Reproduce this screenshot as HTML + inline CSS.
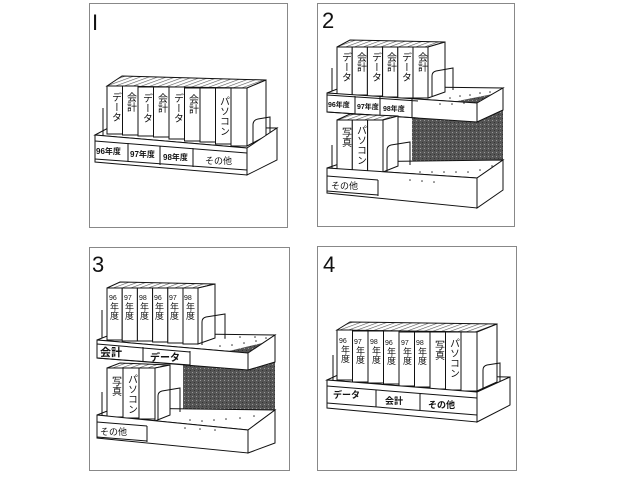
<!DOCTYPE html>
<html><head><meta charset="utf-8"><style>
html,body{margin:0;padding:0;background:#fff}
svg{display:block}
text{font-family:"Liberation Sans","Noto Sans CJK JP",sans-serif;fill:#111}
.v{writing-mode:vertical-rl;font-size:10px}
.l{font-size:8px;font-weight:bold}
.n{font-size:9px}
.s{font-size:7px}
</style></head><body>
<svg width="640" height="480" viewBox="0 0 640 480" xmlns="http://www.w3.org/2000/svg">
<defs>
<pattern id="h" width="3" height="3" patternUnits="userSpaceOnUse" patternTransform="rotate(-20)">
<rect width="3" height="3" fill="#fff"/><line x1="0" y1="0" x2="3" y2="0" stroke="#555" stroke-width="1.2"/></pattern>
<pattern id="d" width="4" height="4" patternUnits="userSpaceOnUse">
<rect width="4" height="4" fill="#555"/><rect x="0" y="0" width="1" height="1" fill="#999"/><rect x="2" y="2" width="1" height="1" fill="#333"/></pattern>
</defs>
<g fill="none" stroke="#888" stroke-width="1">
<rect x="89.5" y="3.5" width="198" height="224"/>
<rect x="317.5" y="3.5" width="197" height="223"/>
<rect x="89.5" y="247.5" width="200" height="223"/>
<rect x="317.5" y="246.5" width="199" height="224"/>
</g>
<g font-size="22" style="font-family:'Liberation Sans',sans-serif">
<text x="92" y="30" font-weight="300">I</text>
<text x="322" y="28">2</text>
<text x="92" y="272">3</text>
<text x="323" y="272">4</text>
</g>

<!-- PANEL 1 -->
<g stroke="#111" stroke-width="1">
<polygon points="95,135 110,127 277,128 247,148" fill="#fff"/>
<line x1="103" y1="108" x2="103" y2="138"/>
<polygon points="107,86 122,76 266,80 247,88" fill="url(#h)"/>
<polygon points="247,88 266,80 266,136 247,146" fill="#fff"/>
<g fill="#fff">
<rect x="107" y="86" width="15.5" height="48"/><rect x="122.5" y="86" width="15.5" height="49"/>
<rect x="138" y="87" width="15.5" height="49"/><rect x="153.5" y="87" width="15.5" height="50"/>
<rect x="169" y="87" width="15.5" height="52"/><rect x="184.5" y="88" width="15.5" height="53"/>
<rect x="200" y="88" width="15.5" height="54"/><rect x="215.5" y="88" width="15.5" height="56"/>
<rect x="231" y="88" width="16" height="58"/>
</g>
<path d="M253,146 L253,125 Q253,120 258,119 L270,117 L270,137" fill="none"/>
<polygon points="95,135 247,148 247,175 95,162" fill="#fff"/>
<polygon points="247,148 277,128 277,160 247,175" fill="#fff"/>
<path d="M95,141 L247,153 M95,159 L247,170 M128,143 L128,162 M160,146 L160,165 M193,148 L193,167" fill="none"/>
</g>
<text class="v" x="115" y="92">データ</text><text class="v" x="130" y="92">会計</text>
<text class="v" x="146" y="93">データ</text><text class="v" x="161" y="93">会計</text>
<text class="v" x="177" y="93">データ</text><text class="v" x="192" y="94">会計</text>
<text class="v" x="223" y="96">パソコン</text>
<text class="l" x="96" y="154">96年度</text><text class="l" x="130" y="157">97年度</text>
<text class="l" x="163" y="160">98年度</text><text class="n" x="205" y="164">その他</text>

<!-- PANEL 2 -->
<g stroke="#111" stroke-width="1">
<line x1="332" y1="68" x2="332" y2="96"/>
<polygon points="327,93 345,86 503,88 477,103" fill="#fff"/>
<polygon points="412,110 503,92 503,165 412,165" fill="url(#d)" stroke="none"/>
<polygon points="337,47 350,40 445,42 428,47" fill="url(#h)"/>
<polygon points="428,47 445,42 445,92 428,98" fill="#fff"/>
<g fill="#fff">
<rect x="337" y="47" width="15.2" height="48"/><rect x="352.2" y="47" width="15.2" height="48"/>
<rect x="367.4" y="47" width="15.2" height="49"/><rect x="382.6" y="47" width="15.2" height="50"/>
<rect x="397.8" y="47" width="15.2" height="51"/><rect x="413" y="47" width="15" height="51"/>
</g>
<path d="M432,96 L432,76 Q432,72 436,71 L453,68 L453,90" fill="none"/>
<polygon points="327,93 477,103 477,122 327,112" fill="#fff"/>
<polygon points="477,103 503,88 503,110 477,122" fill="#fff"/>
<path d="M327,95 L418,101 M327,112 L418,118 M355,96 L355,114 M380,97 L380,116 M412,99 L412,118" fill="none"/>
<polygon points="327,168 345,162 503,160 477,178" fill="#fff"/>
<line x1="332" y1="145" x2="332" y2="170"/>
<polygon points="337,120 350,114 398,116 383,120" fill="url(#h)"/>
<polygon points="383,120 398,116 398,166 383,172" fill="#fff"/>
<g fill="#fff">
<rect x="337" y="120" width="15.3" height="50"/><rect x="352.3" y="120" width="15.3" height="51"/>
<rect x="367.6" y="120" width="15.4" height="52"/>
</g>
<path d="M387,172 L387,150 Q387,146 391,145 L410,142 L410,165" fill="none"/>
<polygon points="327,168 477,178 477,208 327,193" fill="#fff"/>
<polygon points="477,178 503,160 503,190 477,208" fill="#fff"/>
<path d="M327,176 L378,180 M327,191 L378,195 M378,180 L378,196" fill="none"/>
</g>
<g fill="#333">
<circle cx="450" cy="98" r=".8"/><circle cx="460" cy="96" r=".8"/><circle cx="470" cy="95" r=".8"/><circle cx="480" cy="93" r=".8"/><circle cx="490" cy="92" r=".8"/>
<circle cx="440" cy="104" r=".8"/><circle cx="452" cy="104" r=".8"/><circle cx="464" cy="103" r=".8"/>
<circle cx="420" cy="172" r=".8"/><circle cx="432" cy="172" r=".8"/><circle cx="444" cy="172" r=".8"/><circle cx="456" cy="172" r=".8"/><circle cx="468" cy="172" r=".8"/><circle cx="480" cy="170" r=".8"/><circle cx="492" cy="166" r=".8"/>
<circle cx="410" cy="180" r=".8"/><circle cx="422" cy="181" r=".8"/><circle cx="434" cy="182" r=".8"/>
</g>
<text class="v" x="345" y="52">データ</text><text class="v" x="360" y="52">会計</text>
<text class="v" x="375" y="52">データ</text><text class="v" x="390" y="52">会計</text>
<text class="v" x="405" y="52">データ</text><text class="v" x="421" y="52">会計</text>
<text class="v" x="345" y="127">写真</text><text class="v" x="360" y="125">パソコン</text>
<text class="l" x="328" y="107" style="font-size:7px">96年度</text><text class="l" x="357" y="109" style="font-size:7px">97年度</text><text class="l" x="383" y="111" style="font-size:7px">98年度</text>
<text class="n" x="331" y="189">その他</text>

<!-- PANEL 3 -->
<g stroke="#111" stroke-width="1">
<line x1="102" y1="310" x2="102" y2="342"/>
<polygon points="97,340 115,333 275,335 248,353" fill="#fff"/>
<polygon points="183,362 275,340 275,413 183,413" fill="url(#d)" stroke="none"/>
<polygon points="107,288 120,282 215,284 198,288" fill="url(#h)"/>
<polygon points="198,288 215,284 215,338 198,344" fill="#fff"/>
<g fill="#fff">
<rect x="107" y="288" width="15.2" height="52"/><rect x="122.2" y="288" width="15.2" height="53"/>
<rect x="137.4" y="288" width="15.2" height="53"/><rect x="152.6" y="288" width="15.2" height="54"/>
<rect x="167.8" y="288" width="15.2" height="55"/><rect x="183" y="288" width="15" height="56"/>
</g>
<path d="M202,345 L202,322 Q202,318 206,317 L225,314 L225,338" fill="none"/>
<polygon points="97,340 248,353 248,370 97,358" fill="#fff"/>
<polygon points="248,353 275,335 275,362 248,370" fill="#fff"/>
<path d="M97,344 L190,352 M97,358 L190,365 M143,347 L143,361 M190,351 L190,365" fill="none"/>
<polygon points="97,415 115,408 275,410 248,430" fill="#fff"/>
<line x1="102" y1="392" x2="102" y2="418"/>
<polygon points="107,368 120,363 170,365 155,368" fill="url(#h)"/>
<polygon points="155,368 170,365 170,415 155,421" fill="#fff"/>
<g fill="#fff">
<rect x="107" y="368" width="16" height="49"/><rect x="123" y="368" width="16" height="50"/>
<rect x="139" y="368" width="16" height="51"/>
</g>
<path d="M158,420 L158,396 Q158,392 162,391 L180,388 L180,412" fill="none"/>
<polygon points="97,415 248,430 248,453 97,438" fill="#fff"/>
<polygon points="248,430 275,410 275,443 248,453" fill="#fff"/>
<path d="M97,422 L147,426 M97,437 L147,441 M147,426 L147,442" fill="none"/>
</g>
<g fill="#333">
<circle cx="220" cy="346" r=".8"/><circle cx="232" cy="345" r=".8"/><circle cx="244" cy="343" r=".8"/><circle cx="256" cy="341" r=".8"/><circle cx="266" cy="338" r=".8"/>
<circle cx="225" cy="338" r=".8"/><circle cx="240" cy="337" r=".8"/><circle cx="255" cy="337" r=".8"/>
<circle cx="190" cy="420" r=".8"/><circle cx="202" cy="421" r=".8"/><circle cx="214" cy="420" r=".8"/><circle cx="226" cy="419" r=".8"/><circle cx="240" cy="418" r=".8"/><circle cx="254" cy="416" r=".8"/>
<circle cx="185" cy="428" r=".8"/><circle cx="200" cy="429" r=".8"/><circle cx="215" cy="430" r=".8"/>
</g>
<g class="s"><text x="109" y="300">96</text><text x="124" y="300">97</text><text x="139" y="300">98</text><text x="154" y="300">96</text><text x="169" y="300">97</text><text x="184" y="300">98</text></g>
<g class="v" style="font-size:9px"><text x="114" y="302">年度</text><text x="129" y="302">年度</text><text x="144" y="302">年度</text><text x="159" y="302">年度</text><text x="174" y="302">年度</text><text x="190" y="302">年度</text></g>
<text class="v" x="115" y="376">写真</text><text class="v" x="131" y="374">パソコン</text>
<text class="l" x="100" y="356" style="font-size:11px">会計</text><text class="l" x="150" y="361" style="font-size:10px">データ</text>
<text class="n" x="100" y="435">その他</text>

<!-- PANEL 4 -->
<g stroke="#111" stroke-width="1">
<polygon points="327,380 340,374 510,377 477,392" fill="#fff"/>
<line x1="333" y1="355" x2="333" y2="383"/>
<polygon points="337,330 350,322 497,324 477,332" fill="url(#h)"/>
<polygon points="477,332 497,324 497,382 477,391" fill="#fff"/>
<g fill="#fff">
<rect x="337" y="330" width="15.5" height="50"/><rect x="352.5" y="331" width="15.5" height="51"/>
<rect x="368" y="331" width="15.5" height="52"/><rect x="383.5" y="331" width="15.5" height="53"/>
<rect x="399" y="332" width="15.5" height="54"/><rect x="414.5" y="332" width="15.5" height="55"/>
<rect x="430" y="332" width="15.5" height="57"/><rect x="445.5" y="332" width="15.5" height="58"/>
<rect x="461" y="332" width="16" height="59"/>
</g>
<path d="M483,390 L483,370 Q483,366 487,365 L500,363 L500,382" fill="none"/>
<polygon points="327,380 477,392 477,422 327,408" fill="#fff"/>
<polygon points="477,392 510,377 510,405 477,422" fill="#fff"/>
<path d="M327,386 L477,398 M327,403 L477,415 M376,390 L376,407 M420,394 L420,411" fill="none"/>
</g>
<g class="s"><text x="339" y="343">96</text><text x="354" y="344">97</text><text x="370" y="344">98</text><text x="385" y="345">96</text><text x="401" y="345">97</text><text x="416" y="345">98</text></g>
<g class="v" style="font-size:9px"><text x="345" y="345">年度</text><text x="360" y="346">年度</text><text x="376" y="346">年度</text><text x="391" y="347">年度</text><text x="407" y="347">年度</text><text x="422" y="347">年度</text></g>
<text class="v" x="438" y="340">写真</text><text class="v" x="453" y="338">パソコン</text>
<text class="l" x="333" y="398" style="font-size:9px">データ</text><text class="l" x="385" y="404" style="font-size:9px">会計</text><text class="l" x="428" y="408" style="font-size:9px">その他</text>
</svg>
</body></html>
